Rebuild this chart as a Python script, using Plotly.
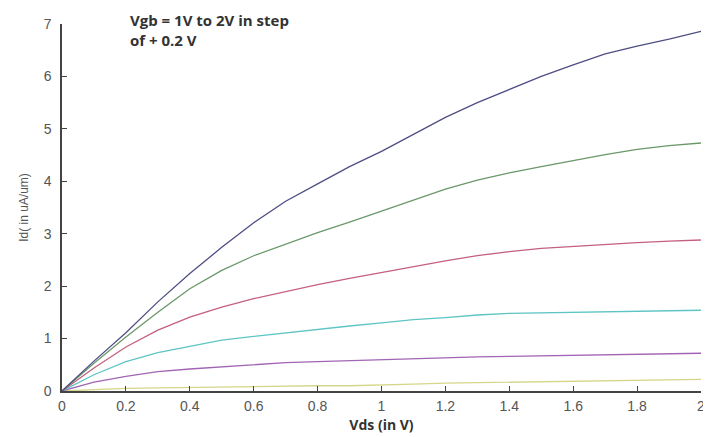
import plotly.graph_objects as go

vds = [0.0, 0.1, 0.2, 0.3, 0.4, 0.5, 0.6, 0.7, 0.8, 0.9, 1.0,
       1.1, 1.2, 1.3, 1.4, 1.5, 1.6, 1.7, 1.8, 1.9, 2.0]

id_vgb_2_0 = [0, 0.57, 1.11, 1.70, 2.24, 2.74, 3.21, 3.62, 3.95, 4.28, 4.57,
              4.90, 5.22, 5.50, 5.75, 6.00, 6.22, 6.43, 6.58, 6.71, 6.86]
id_vgb_1_8 = [0, 0.53, 1.03, 1.50, 1.95, 2.30, 2.58, 2.80, 3.02, 3.22, 3.43,
              3.64, 3.85, 4.02, 4.16, 4.28, 4.40, 4.51, 4.61, 4.68, 4.73]
id_vgb_1_6 = [0, 0.44, 0.84, 1.16, 1.41, 1.60, 1.76, 1.90, 2.03, 2.15, 2.26,
              2.38, 2.48, 2.58, 2.66, 2.72, 2.76, 2.80, 2.83, 2.86, 2.88]
id_vgb_1_4 = [0, 0.31, 0.56, 0.73, 0.85, 0.97, 1.04, 1.11, 1.17, 1.24, 1.30,
              1.36, 1.40, 1.45, 1.48, 1.49, 1.50, 1.51, 1.52, 1.53, 1.54]
id_vgb_1_2 = [0, 0.17, 0.28, 0.37, 0.42, 0.46, 0.51, 0.54, 0.56, 0.58, 0.60,
              0.62, 0.64, 0.65, 0.66, 0.67, 0.68, 0.69, 0.70, 0.71, 0.72]
id_vgb_1_0 = [0, 0.03, 0.05, 0.06, 0.07, 0.08, 0.09, 0.10, 0.10, 0.10, 0.11,
              0.13, 0.15, 0.16, 0.17, 0.18, 0.19, 0.20, 0.20, 0.21, 0.22]

series = [
    ("Vgb = 1.0 V", id_vgb_1_0, "#d6d68a"),
    ("Vgb = 1.2 V", id_vgb_1_2, "#a264b4"),
    ("Vgb = 1.4 V", id_vgb_1_4, "#5ec4c4"),
    ("Vgb = 1.6 V", id_vgb_1_6, "#c4607e"),
    ("Vgb = 1.8 V", id_vgb_1_8, "#6a986a"),
    ("Vgb = 2.0 V", id_vgb_2_0, "#4e4e84"),
]

x_ticks = [0, 0.2, 0.4, 0.6, 0.8, 1, 1.2, 1.4, 1.6, 1.8, 2]
x_tick_labels = ["0", "0.2", "0.4", "0.6", "0.8", "1", "1.2", "1.4", "1.6", "1.8", "2"]
y_ticks = [0, 1, 2, 3, 4, 5, 6, 7]

fig = go.Figure()
for name, vals, col in series:
    fig.add_trace(go.Scatter(x=vds, y=vals, mode="lines", name=name,
                             line=dict(color=col, width=1.3)))

tick_font = dict(family="Liberation Sans, Arial, sans-serif", size=14, color="#555555")

# page body has an 8px margin, so the figure is sized and offset to compensate
fig.update_layout(
    width=703, height=429,
    margin=dict(l=54, r=6, t=16, b=46),
    paper_bgcolor="white", plot_bgcolor="white",
    showlegend=False,
    xaxis=dict(range=[0, 2], tickvals=x_ticks, ticktext=x_tick_labels,
               ticks="inside", ticklen=5, tickcolor="#444444", tickwidth=1,
               showline=True, linecolor="#444444", linewidth=1.5, mirror=False,
               showgrid=False, zeroline=False, tickfont=tick_font,
               ticklabelstandoff=1,
               title=dict(text="<b>Vds (in V)</b>", standoff=8,
                          font=dict(family="Open Sans, Liberation Sans, sans-serif", size=14, color="#333333"))),
    yaxis=dict(range=[0, 7], tickvals=y_ticks,
               ticks="inside", ticklen=5, tickcolor="#444444", tickwidth=1,
               showline=True, linecolor="#444444", linewidth=1.5, mirror=False,
               showgrid=False, zeroline=False, tickfont=tick_font,
               ticklabelstandoff=6,
               title=dict(text="Id( in uA/um)", standoff=12,
                          font=dict(family="Liberation Sans, Arial, sans-serif", size=12, color="#555555"))),
    annotations=[dict(
        text="<b>Vgb = 1V to 2V in step<br>of + 0.2 V</b>",
        xref="paper", yref="paper", x=0.103, y=1.043, xanchor="left", yanchor="top",
        align="left", showarrow=False,
        font=dict(family="Open Sans, Liberation Sans, sans-serif", size=15, color="#333333"))],
)

fig.write_html("out.html")
